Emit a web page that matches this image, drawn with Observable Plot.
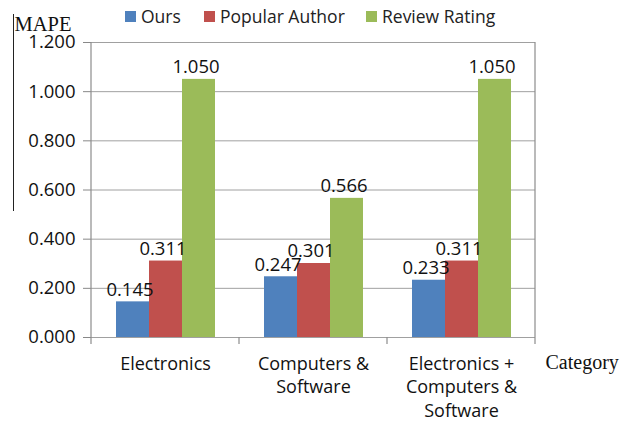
<!DOCTYPE html>
<html>
<head>
<meta charset="utf-8">
<script src="https://cdn.jsdelivr.net/npm/d3@7"></script>
<script src="https://cdn.jsdelivr.net/npm/@observablehq/plot@0.6"></script>
<style>
  html, body { margin: 0; padding: 0; background: #fff; }
  #wrap { position: relative; width: 628px; height: 422px; overflow: hidden; font-family: "Open Sans", sans-serif; }
  .leg { position: absolute; top: 4px; display: flex; align-items: center; font-size: 17.5px; color: #222; white-space: nowrap; }
  .sw { width: 11px; height: 11px; margin-right: 5px; }
  #artifact { position: absolute; left: 13px; top: 14px; width: 0; height: 197px; border-left: 1.5px solid #222; z-index: 2; }
</style>
</head>
<body>
<div id="wrap"></div>
<script>
const categories = ["Electronics", "Computers & Software", "Electronics + Computers & Software"];
const categoryLabels = ["Electronics", "Computers &\nSoftware", "Electronics +\nComputers &\nSoftware"];
const series = ["Ours", "Popular Author", "Review Rating"];
const colors = ["#4F81BD", "#C0504D", "#9BBB59"];
const ours = [0.145, 0.247, 0.233];
const popularAuthor = [0.311, 0.301, 0.311];
const reviewRating = [1.050, 0.566, 1.050];
const yTicks = [0, 0.2, 0.4, 0.6, 0.8, 1.0, 1.2];

const values = [ours, popularAuthor, reviewRating];
const rows = [];
categories.forEach((c, i) => series.forEach((s, j) => rows.push({cat: c, series: s, value: values[j][i]})));
const labelOf = new Map(categories.map((c, i) => [c, categoryLabels[i]]));
const fmt = d3.format(".3f");
const FONT = 18.5;

const chart = Plot.plot({
  width: 628,
  height: 422,
  marginTop: 42,
  marginBottom: 85,
  marginLeft: 90,
  marginRight: 93,
  style: {fontFamily: "Open Sans, sans-serif", fontSize: FONT + "px", color: "#111", background: "#fff"},
  fx: {domain: categories, padding: 0},
  x: {domain: series, paddingInner: 0, paddingOuter: 0.72, axis: null},
  y: {domain: [0, 1.2]},
  color: {domain: series, range: colors},
  marks: [
    Plot.ruleY(yTicks, {stroke: "#a0a0a0", strokeWidth: 1}),
    Plot.barY(rows, {fx: "cat", x: "series", y: "value", fill: "series"}),
    Plot.text(rows, {fx: "cat", x: "series", y: "value", text: d => fmt(d.value), dy: -12, dx: -3, fontSize: FONT, fill: "#111"}),
    Plot.axisY({ticks: yTicks, tickFormat: fmt, tickSize: 8, tickPadding: 8, label: null, fontSize: FONT, stroke: "#888", fill: "#111"}),
    Plot.axisFx({anchor: "bottom", tickSize: 0, tickPadding: 15, label: null, tickFormat: d => labelOf.get(d), lineHeight: 1.33, fontSize: 18, fill: "#111"}),
    Plot.text([categories[0]], {fx: d => d, frameAnchor: "top-left", text: () => "MAPE", textAnchor: "start", dx: -77, dy: -26, fontFamily: "Liberation Serif, serif", fontSize: 20.5, fill: "#111"}),
    Plot.text([categories[2]], {fx: d => d, frameAnchor: "bottom-right", text: () => "Category", textAnchor: "start", dx: 10, dy: 31, fontFamily: "Liberation Serif, serif", fontSize: 20, fill: "#111"})
  ]
});

// frame lines and category boundary ticks, positioned from Plot's own scales
const fxS = chart.scale("fx");
const yS = chart.scale("y");
const y0 = yS.apply(0), yTop = yS.apply(1.2);
const edges = categories.map(c => fxS.apply(c));
edges.push(fxS.apply(categories[categories.length - 1]) + fxS.bandwidth);
const svg = d3.select(chart);
const g = svg.append("g").attr("stroke", "#8c8c8c").attr("stroke-width", 1.2);
[edges[0], edges[edges.length - 1]].forEach(x => {
  g.append("line").attr("x1", x).attr("x2", x).attr("y1", yTop).attr("y2", y0);
});
edges.forEach(x => {
  g.append("line").attr("x1", x).attr("x2", x).attr("y1", y0).attr("y2", y0 + 7);
});

const wrap = document.getElementById("wrap");
wrap.appendChild(chart);
chart.style.position = "absolute";
chart.style.left = "0px";
chart.style.top = "0px";

const art = document.createElement("div");
art.id = "artifact";
wrap.appendChild(art);

const legendLeft = [125, 204, 366];
series.forEach((s, i) => {
  const item = document.createElement("div");
  item.className = "leg";
  item.style.left = legendLeft[i] + "px";
  const sw = document.createElement("div");
  sw.className = "sw";
  sw.style.background = colors[i];
  item.appendChild(sw);
  const t = document.createElement("span");
  t.textContent = s;
  item.appendChild(t);
  wrap.appendChild(item);
});
</script>
</body>
</html>
